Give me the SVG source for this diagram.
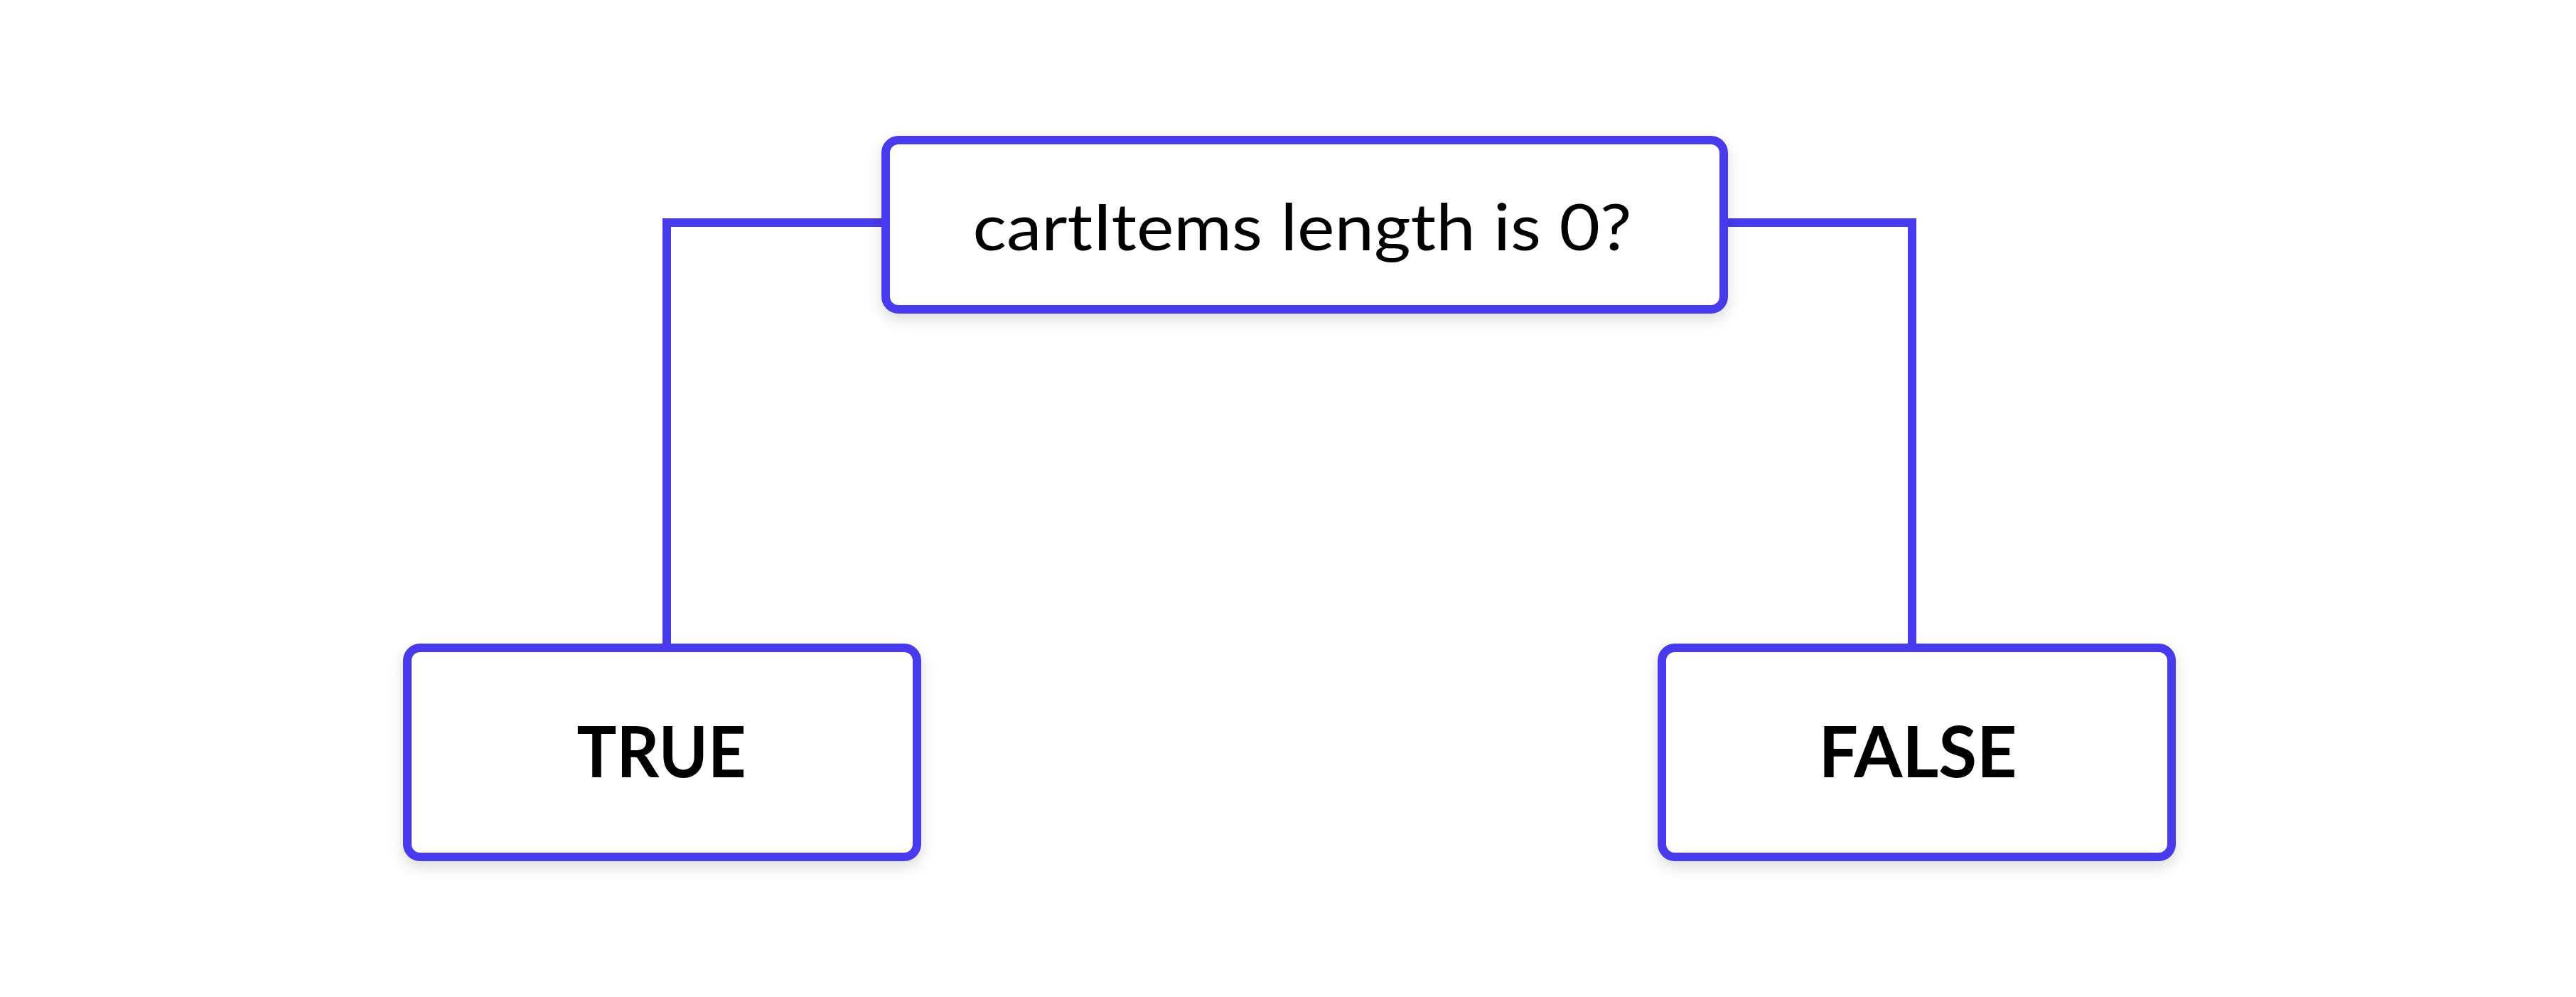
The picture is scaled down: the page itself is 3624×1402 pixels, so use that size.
<svg xmlns="http://www.w3.org/2000/svg" width="3624" height="1402" viewBox="0 0 3624 1402">
<style>
.box{fill:#ffffff;stroke:#4a3aed;stroke-width:12;filter:url(#sh)}
.conn{fill:none;stroke:#4a3aed;stroke-width:12;stroke-linejoin:miter}
.q{font-family:Lato,"Liberation Sans",sans-serif;font-size:92px;fill:#000;text-anchor:middle}
.b{font-family:Lato,"Liberation Sans",sans-serif;font-size:100px;font-weight:bold;fill:#000;text-anchor:middle}
</style>
<defs>
<filter id="sh" x="-10%" y="-20%" width="120%" height="150%">
<feDropShadow dx="0" dy="8" stdDeviation="10" flood-color="#000" flood-opacity="0.14"/>
</filter>
</defs>
<rect width="3624" height="1402" fill="#ffffff"/>
<g id="connectors">
<path class="conn" d="M1246,313 H938 V911"/>
<path class="conn" d="M2425,313 H2690 V911"/>
</g>
<g id="node-question">
<rect class="box" x="1246" y="197" width="1179" height="238" rx="18"/>
<text class="q" x="1832" y="352" textLength="927" lengthAdjust="spacingAndGlyphs">cartItems length is 0?</text>
</g>
<g id="node-true">
<rect class="box" x="573" y="911" width="717" height="294" rx="18"/>
<text class="b" x="930.5" y="1093" textLength="238" lengthAdjust="spacingAndGlyphs">TRUE</text>
</g>
<g id="node-false">
<rect class="box" x="2338" y="911" width="717" height="294" rx="18"/>
<text class="b" x="2698" y="1093" textLength="279" lengthAdjust="spacingAndGlyphs">FALSE</text>
</g>
</svg>
